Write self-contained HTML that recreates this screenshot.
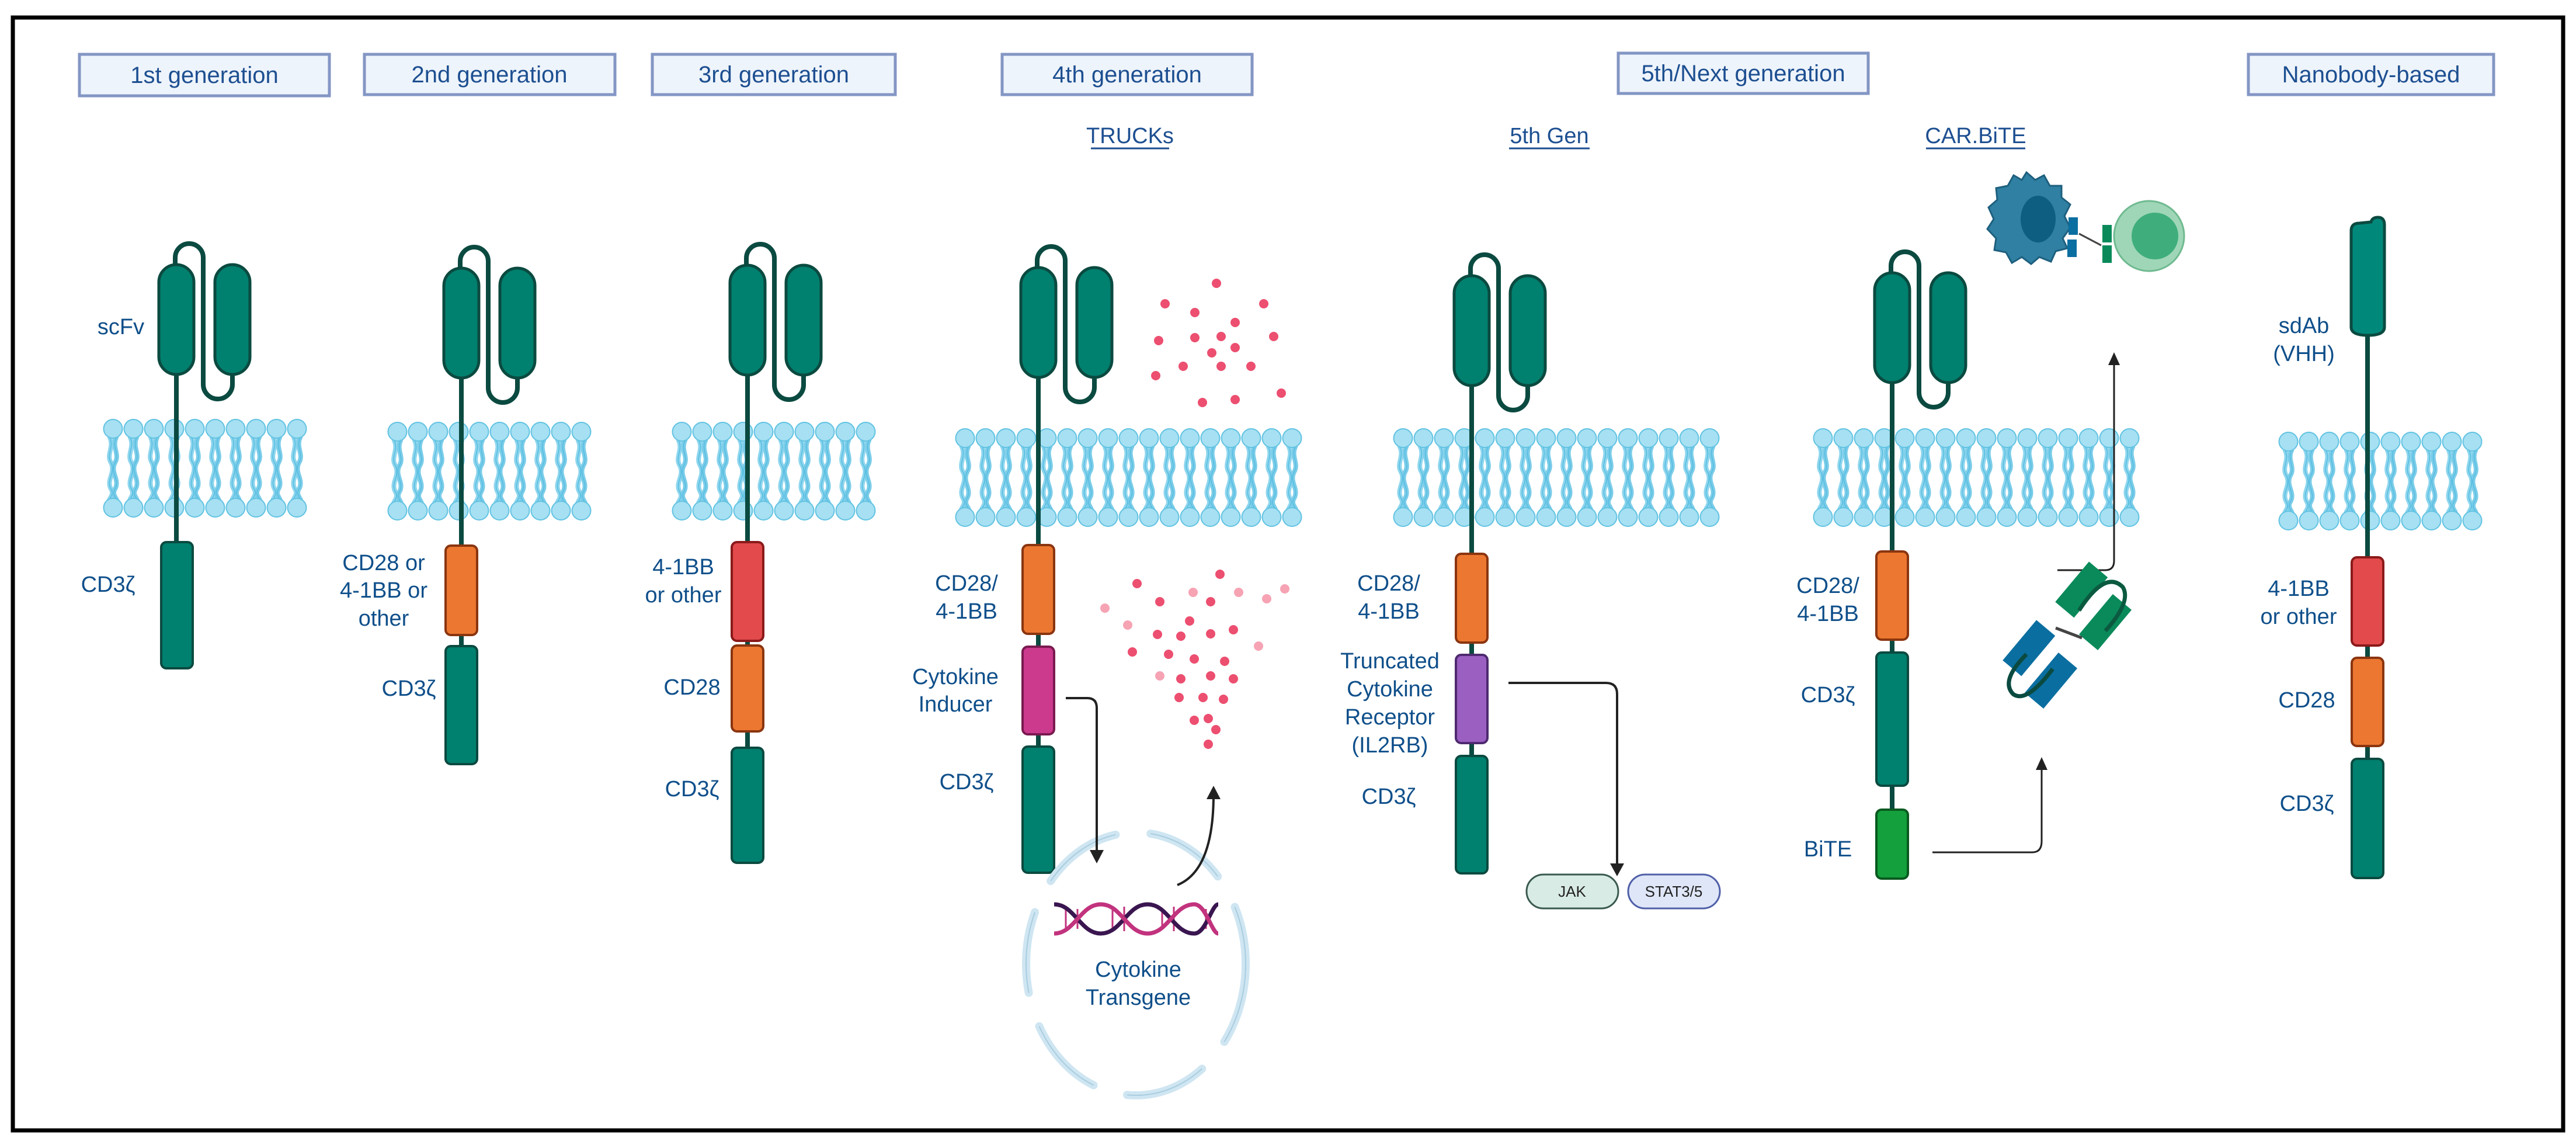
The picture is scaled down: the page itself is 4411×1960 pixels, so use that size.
<!DOCTYPE html>
<html><head><meta charset="utf-8"><style>html,body{margin:0;padding:0;background:#fff}svg{display:block}</style></head>
<body>
<svg width="4411" height="1960" viewBox="0 0 4411 1960" xmlns="http://www.w3.org/2000/svg" font-family="Liberation Sans, sans-serif">
<defs>
<pattern id="lip" patternUnits="userSpaceOnUse" width="35" height="170">
  <path d="M11,30 C21,48 5,60 14,75 C23,92 5,104 14,120 C20,130 11,135 11,140" fill="none" stroke="#8fd6ee" stroke-width="8"/>
  <path d="M24,30 C14,48 30,60 21,75 C12,92 30,104 21,120 C15,130 24,135 24,140" fill="none" stroke="#7ccde9" stroke-width="8"/>
  <path d="M11,30 C21,48 5,60 14,75 C23,92 5,104 14,120 C20,130 11,135 11,140" fill="none" stroke="#55bde0" stroke-width="1.5"/>
  <path d="M24,30 C14,48 30,60 21,75 C12,92 30,104 21,120 C15,130 24,135 24,140" fill="none" stroke="#55bde0" stroke-width="1.5"/>
  <circle cx="17.5" cy="17" r="16" fill="#a6e0f2" stroke="#62c3e2" stroke-width="2"/>
  <circle cx="17.5" cy="152" r="16" fill="#a6e0f2" stroke="#62c3e2" stroke-width="2"/>
</pattern>
<g id="scfv">
  <path d="M-2,0 L-2,-12 A24,24 0 0 1 46,-12 L46,205 A25,25 0 0 0 96,205 L96,188" fill="none" stroke="#0b4a40" stroke-width="8"/>
  <rect x="-30" y="0" width="60" height="188" rx="30" fill="#00806f" stroke="#0b4a40" stroke-width="5"/>
  <rect x="66" y="0" width="60" height="188" rx="30" fill="#00806f" stroke="#0b4a40" stroke-width="5"/>
</g>
</defs>

<rect x="22" y="30" width="4367" height="1905" fill="#fff" stroke="#000" stroke-width="7"/>

<!-- Title boxes -->
<g fill="#eef4fb" stroke="#8396c4" stroke-width="5">
<rect x="136" y="93" width="428" height="71"/>
<rect x="624" y="93" width="429" height="69"/>
<rect x="1117" y="93" width="416" height="69"/>
<rect x="1716" y="93" width="428" height="69"/>
<rect x="2771" y="91" width="428" height="69"/>
<rect x="3850" y="93" width="420" height="69"/>
</g>
<g fill="#1d4f91" font-size="40" text-anchor="middle">
<text x="350" y="142">1st generation</text>
<text x="838" y="141">2nd generation</text>
<text x="1325" y="141">3rd generation</text>
<text x="1930" y="141">4th generation</text>
<text x="2985" y="139">5th/Next generation</text>
<text x="4060" y="141">Nanobody-based</text>
</g>
<g fill="#1d4f91" font-size="38" text-anchor="middle">
<text x="1935" y="245">TRUCKs</text>
<text x="2653" y="245">5th Gen</text>
<text x="3383" y="245">CAR.BiTE</text>
</g>
<g stroke="#1d4f91" stroke-width="3">
<line x1="1868" y1="254" x2="2002" y2="254"/>
<line x1="2584" y1="254" x2="2722" y2="254"/>
<line x1="3298" y1="254" x2="3468" y2="254"/>
</g>

<!-- Membranes -->
<g transform="translate(176,717)"><rect width="350" height="170" fill="url(#lip)"/></g>
<g transform="translate(663,722)"><rect width="350" height="170" fill="url(#lip)"/></g>
<g transform="translate(1150,722)"><rect width="350" height="170" fill="url(#lip)"/></g>
<g transform="translate(1635,733)"><rect width="595" height="170" fill="url(#lip)"/></g>
<g transform="translate(2385,733)"><rect width="560" height="170" fill="url(#lip)"/></g>
<g transform="translate(3104,733)"><rect width="560" height="170" fill="url(#lip)"/></g>
<g transform="translate(3901,739)"><rect width="350" height="170" fill="url(#lip)"/></g>

<!-- stems -->
<g stroke="#0b4a40" stroke-width="8">
<line x1="302" y1="640" x2="302" y2="930"/>
<line x1="790" y1="646" x2="790" y2="1110"/>
<line x1="1280" y1="642" x2="1280" y2="1282"/>
<line x1="1778" y1="645" x2="1778" y2="1280"/>
<line x1="2520" y1="659" x2="2520" y2="1296"/>
<line x1="3240" y1="654" x2="3240" y2="1390"/>
<line x1="4054" y1="570" x2="4054" y2="1300"/>
</g>

<use href="#scfv" x="302" y="453"/>
<use href="#scfv" x="790" y="459"/>
<use href="#scfv" x="1280" y="454"/>
<use href="#scfv" x="1778" y="458"/>
<use href="#scfv" x="2520" y="472"/>
<use href="#scfv" x="3240" y="467"/>

<!-- sdAb -->
<path d="M4026,395 Q4026,382 4040,382 L4060,380 Q4062,372 4072,372 Q4083,372 4083,385 L4083,560 Q4083,574 4055,574 Q4026,574 4026,560 Z" fill="#00897b" stroke="#0b4a40" stroke-width="5"/>

<!-- boxes -->
<g stroke-width="4">
<g fill="#00806f" stroke="#0b4a40">
<rect x="276" y="928" width="54" height="216" rx="9"/>
<rect x="763" y="1106" width="54" height="202" rx="9"/>
<rect x="1253" y="1280" width="54" height="197" rx="9"/>
<rect x="1751" y="1278" width="54" height="216" rx="9"/>
<rect x="2493" y="1294" width="54" height="201" rx="9"/>
<rect x="3213" y="1117" width="54" height="228" rx="9"/>
<rect x="4027" y="1299" width="54" height="204" rx="9"/>
</g>
<g fill="#ec7730" stroke="#8a3510">
<rect x="763" y="934" width="54" height="153" rx="9"/>
<rect x="1253" y="1105" width="54" height="147" rx="9"/>
<rect x="1751" y="933" width="54" height="152" rx="9"/>
<rect x="2493" y="948" width="54" height="152" rx="9"/>
<rect x="3213" y="944" width="54" height="151" rx="9"/>
<rect x="4027" y="1126" width="54" height="151" rx="9"/>
</g>
<g fill="#e24a4c" stroke="#8b1a1a">
<rect x="1253" y="928" width="54" height="169" rx="9"/>
<rect x="4027" y="954" width="54" height="151" rx="9"/>
</g>
<rect x="1751" y="1107" width="54" height="150" rx="9" fill="#cc3a8e" stroke="#7a1a50"/>
<rect x="2493" y="1121" width="54" height="151" rx="9" fill="#9b5fc2" stroke="#4e2a70"/>
<rect x="3213" y="1386" width="54" height="118" rx="9" fill="#14a03c" stroke="#0a5a20"/>
</g>

<!-- labels -->
<g fill="#0f4f8a" font-size="38" text-anchor="middle">
<text x="207" y="572">scFv</text>
<text x="185" y="1013">CD3ζ</text>
<text x="657" y="976">CD28 or</text>
<text x="657" y="1023">4-1BB or</text>
<text x="657" y="1071">other</text>
<text x="700" y="1191">CD3ζ</text>
<text x="1170" y="983">4-1BB</text>
<text x="1170" y="1031">or other</text>
<text x="1185" y="1189">CD28</text>
<text x="1185" y="1363">CD3ζ</text>
<text x="1655" y="1011">CD28/</text>
<text x="1655" y="1059">4-1BB</text>
<text x="1636" y="1171">Cytokine</text>
<text x="1636" y="1218">Inducer</text>
<text x="1655" y="1351">CD3ζ</text>
<text x="2378" y="1011">CD28/</text>
<text x="2378" y="1059">4-1BB</text>
<text x="2380" y="1144">Truncated</text>
<text x="2380" y="1192">Cytokine</text>
<text x="2380" y="1240">Receptor</text>
<text x="2380" y="1288">(IL2RB)</text>
<text x="2378" y="1376">CD3ζ</text>
<text x="3130" y="1015">CD28/</text>
<text x="3130" y="1063">4-1BB</text>
<text x="3130" y="1202">CD3ζ</text>
<text x="3130" y="1466">BiTE</text>
<text x="3945" y="570">sdAb</text>
<text x="3945" y="618">(VHH)</text>
<text x="3936" y="1020">4-1BB</text>
<text x="3936" y="1068">or other</text>
<text x="3950" y="1211">CD28</text>
<text x="3950" y="1388">CD3ζ</text>
<text x="1949" y="1672">Cytokine</text>
<text x="1949" y="1720">Transgene</text>
</g>

<!-- cytokine dots -->
<g fill="#ec4f70">
<circle cx="2083" cy="485" r="8"/><circle cx="1995" cy="520" r="8"/><circle cx="2164" cy="520" r="8"/><circle cx="2046" cy="535" r="8"/><circle cx="2115" cy="552" r="8"/><circle cx="1984" cy="583" r="8"/><circle cx="2046" cy="578" r="8"/><circle cx="2091" cy="576" r="8"/><circle cx="2181" cy="576" r="8"/><circle cx="2115" cy="595" r="8"/><circle cx="2075" cy="604" r="8"/><circle cx="2026" cy="627" r="8"/><circle cx="2091" cy="627" r="8"/><circle cx="2142" cy="627" r="8"/><circle cx="1979" cy="643" r="8"/><circle cx="2059" cy="689" r="8"/><circle cx="2115" cy="684" r="8"/><circle cx="2194" cy="673" r="8"/>
<circle cx="1947" cy="999" r="8"/><circle cx="2089" cy="983" r="8"/><circle cx="1986" cy="1030" r="8"/><circle cx="2073" cy="1030" r="8"/><circle cx="2037" cy="1063" r="8"/><circle cx="1982" cy="1086" r="8"/><circle cx="2022" cy="1089" r="8"/><circle cx="2073" cy="1085" r="8"/><circle cx="2112" cy="1078" r="8"/><circle cx="1939" cy="1116" r="8"/><circle cx="2001" cy="1120" r="8"/><circle cx="2045" cy="1128" r="8"/><circle cx="2097" cy="1132" r="8"/><circle cx="2022" cy="1162" r="8"/><circle cx="2073" cy="1157" r="8"/><circle cx="2112" cy="1162" r="8"/><circle cx="2019" cy="1194" r="8"/><circle cx="2060" cy="1194" r="8"/><circle cx="2095" cy="1197" r="8"/><circle cx="2045" cy="1233" r="8"/><circle cx="2069" cy="1230" r="8"/><circle cx="2082" cy="1249" r="8"/><circle cx="2069" cy="1274" r="8"/>
</g>
<g fill="#f6a3b4">
<circle cx="1892" cy="1041" r="8"/><circle cx="2043" cy="1014" r="8"/><circle cx="2121" cy="1014" r="8"/><circle cx="2169" cy="1025" r="8"/><circle cx="2200" cy="1008" r="8"/><circle cx="1931" cy="1070" r="8"/><circle cx="2155" cy="1106" r="8"/><circle cx="1986" cy="1157" r="8"/>
</g>

<!-- nucleus dashed circle -->
<ellipse cx="1945" cy="1650" rx="188" ry="225" fill="none" stroke="#cfe6f2" stroke-width="14" stroke-dasharray="140 60" stroke-linecap="round"/>
<ellipse cx="1945" cy="1650" rx="188" ry="225" fill="none" stroke="#a9cde0" stroke-width="2" stroke-dasharray="140 60"/>

<!-- DNA -->
<g stroke-width="7" fill="none">
<g stroke="#c2337e" stroke-width="3">
<line x1="1825" y1="1552" x2="1825" y2="1592"/><line x1="1845" y1="1556" x2="1845" y2="1590"/><line x1="1905" y1="1558" x2="1905" y2="1590"/><line x1="1925" y1="1552" x2="1925" y2="1594"/><line x1="1990" y1="1556" x2="1990" y2="1590"/><line x1="2010" y1="1552" x2="2010" y2="1594"/><line x1="2065" y1="1556" x2="2065" y2="1590"/>
</g>
<path d="M1805,1548 C1840,1548 1850,1598 1885,1598 C1920,1598 1930,1548 1965,1548 C2000,1548 2010,1598 2045,1598 C2065,1598 2075,1548 2086,1548" stroke="#3a1650"/>
<path d="M1805,1598 C1840,1598 1850,1548 1885,1548 C1920,1548 1930,1598 1965,1598 C2000,1598 2010,1548 2045,1548 C2065,1548 2075,1598 2086,1598" stroke="#c2337e"/>
</g>

<!-- arrows -->
<g fill="none" stroke="#222" stroke-width="4">
<path d="M1825,1195 L1862,1195 Q1878,1195 1878,1212 L1878,1462"/>
<path d="M2016,1515 Q2078,1490 2078,1360"/>
<path d="M2583,1169 L2750,1169 Q2769,1169 2769,1188 L2769,1485"/>
<path d="M3309,1459 L3480,1459 Q3496,1459 3496,1440 L3496,1305" stroke-width="3"/>
<path d="M3523,976 L3605,976 Q3620,976 3620,960 L3620,612" stroke-width="3"/>
</g>
<g fill="#222">
<path d="M1866,1455 L1890,1455 L1878,1478 Z"/>
<path d="M2066,1368 L2090,1368 L2078,1345 Z"/>
<path d="M2757,1478 L2781,1478 L2769,1500 Z"/>
<path d="M3486,1318 L3506,1318 L3496,1296 Z"/>
<path d="M3610,625 L3630,625 L3620,603 Z"/>
</g>

<!-- JAK / STAT -->
<rect x="2614" y="1497" width="157" height="58" rx="29" fill="#d8ebe4" stroke="#3a5a50" stroke-width="3"/>
<rect x="2788" y="1497" width="157" height="58" rx="29" fill="#dfe6f8" stroke="#5060a8" stroke-width="3"/>
<g font-size="26" fill="#222" text-anchor="middle"><text x="2692" y="1535">JAK</text><text x="2866" y="1535">STAT3/5</text></g>

<!-- BiTE molecule -->
<g>
<g transform="rotate(-50 3565 1010)"><rect x="3520" y="988" width="90" height="42" fill="#0a8a5a"/></g>
<g transform="rotate(-50 3605 1065)"><rect x="3560" y="1044" width="90" height="42" fill="#0a8a5a"/></g>
<path d="M3560,1045 Q3605,975 3635,1005 Q3650,1030 3605,1080" fill="none" stroke="#0b5a40" stroke-width="7"/>
<line x1="3520" y1="1075" x2="3565" y2="1092" stroke="#444" stroke-width="5"/>
<g transform="rotate(-50 3475 1110)"><rect x="3430" y="1088" width="90" height="42" fill="#0a6ea0"/></g>
<g transform="rotate(-50 3512 1165)"><rect x="3467" y="1144" width="90" height="42" fill="#0a6ea0"/></g>
<path d="M3470,1120 Q3425,1165 3447,1188 Q3470,1205 3515,1145" fill="none" stroke="#0b4a40" stroke-width="7"/>
</g>

<!-- tumor cell + T cell -->
<path d="M3470,295 L3485,308 L3500,300 L3510,318 L3530,318 L3530,338 L3545,350 L3535,370 L3545,390 L3532,408 L3540,425 L3520,430 L3512,448 L3492,440 L3478,452 L3462,440 L3445,450 L3435,432 L3415,428 L3418,408 L3403,392 L3414,375 L3405,355 L3420,342 L3418,322 L3438,318 L3448,300 L3462,308 Z" fill="#2f80a2" stroke="#1e5f7e" stroke-width="3"/>
<ellipse cx="3490" cy="375" rx="30" ry="40" fill="#0d5e80"/>
<circle cx="3680" cy="404" r="60" fill="#9fd6b8" stroke="#6fba90" stroke-width="3"/>
<circle cx="3690" cy="404" r="40" fill="#3fae7c"/>
<rect x="3542" y="372" width="16" height="30" fill="#0a6ea0"/>
<rect x="3540" y="410" width="16" height="30" fill="#0a6ea0"/>
<rect x="3600" y="385" width="16" height="30" fill="#0a8a5a"/>
<rect x="3600" y="420" width="16" height="30" fill="#0a8a5a"/>
<line x1="3560" y1="400" x2="3598" y2="420" stroke="#444" stroke-width="3"/>
</svg>
</body></html>
